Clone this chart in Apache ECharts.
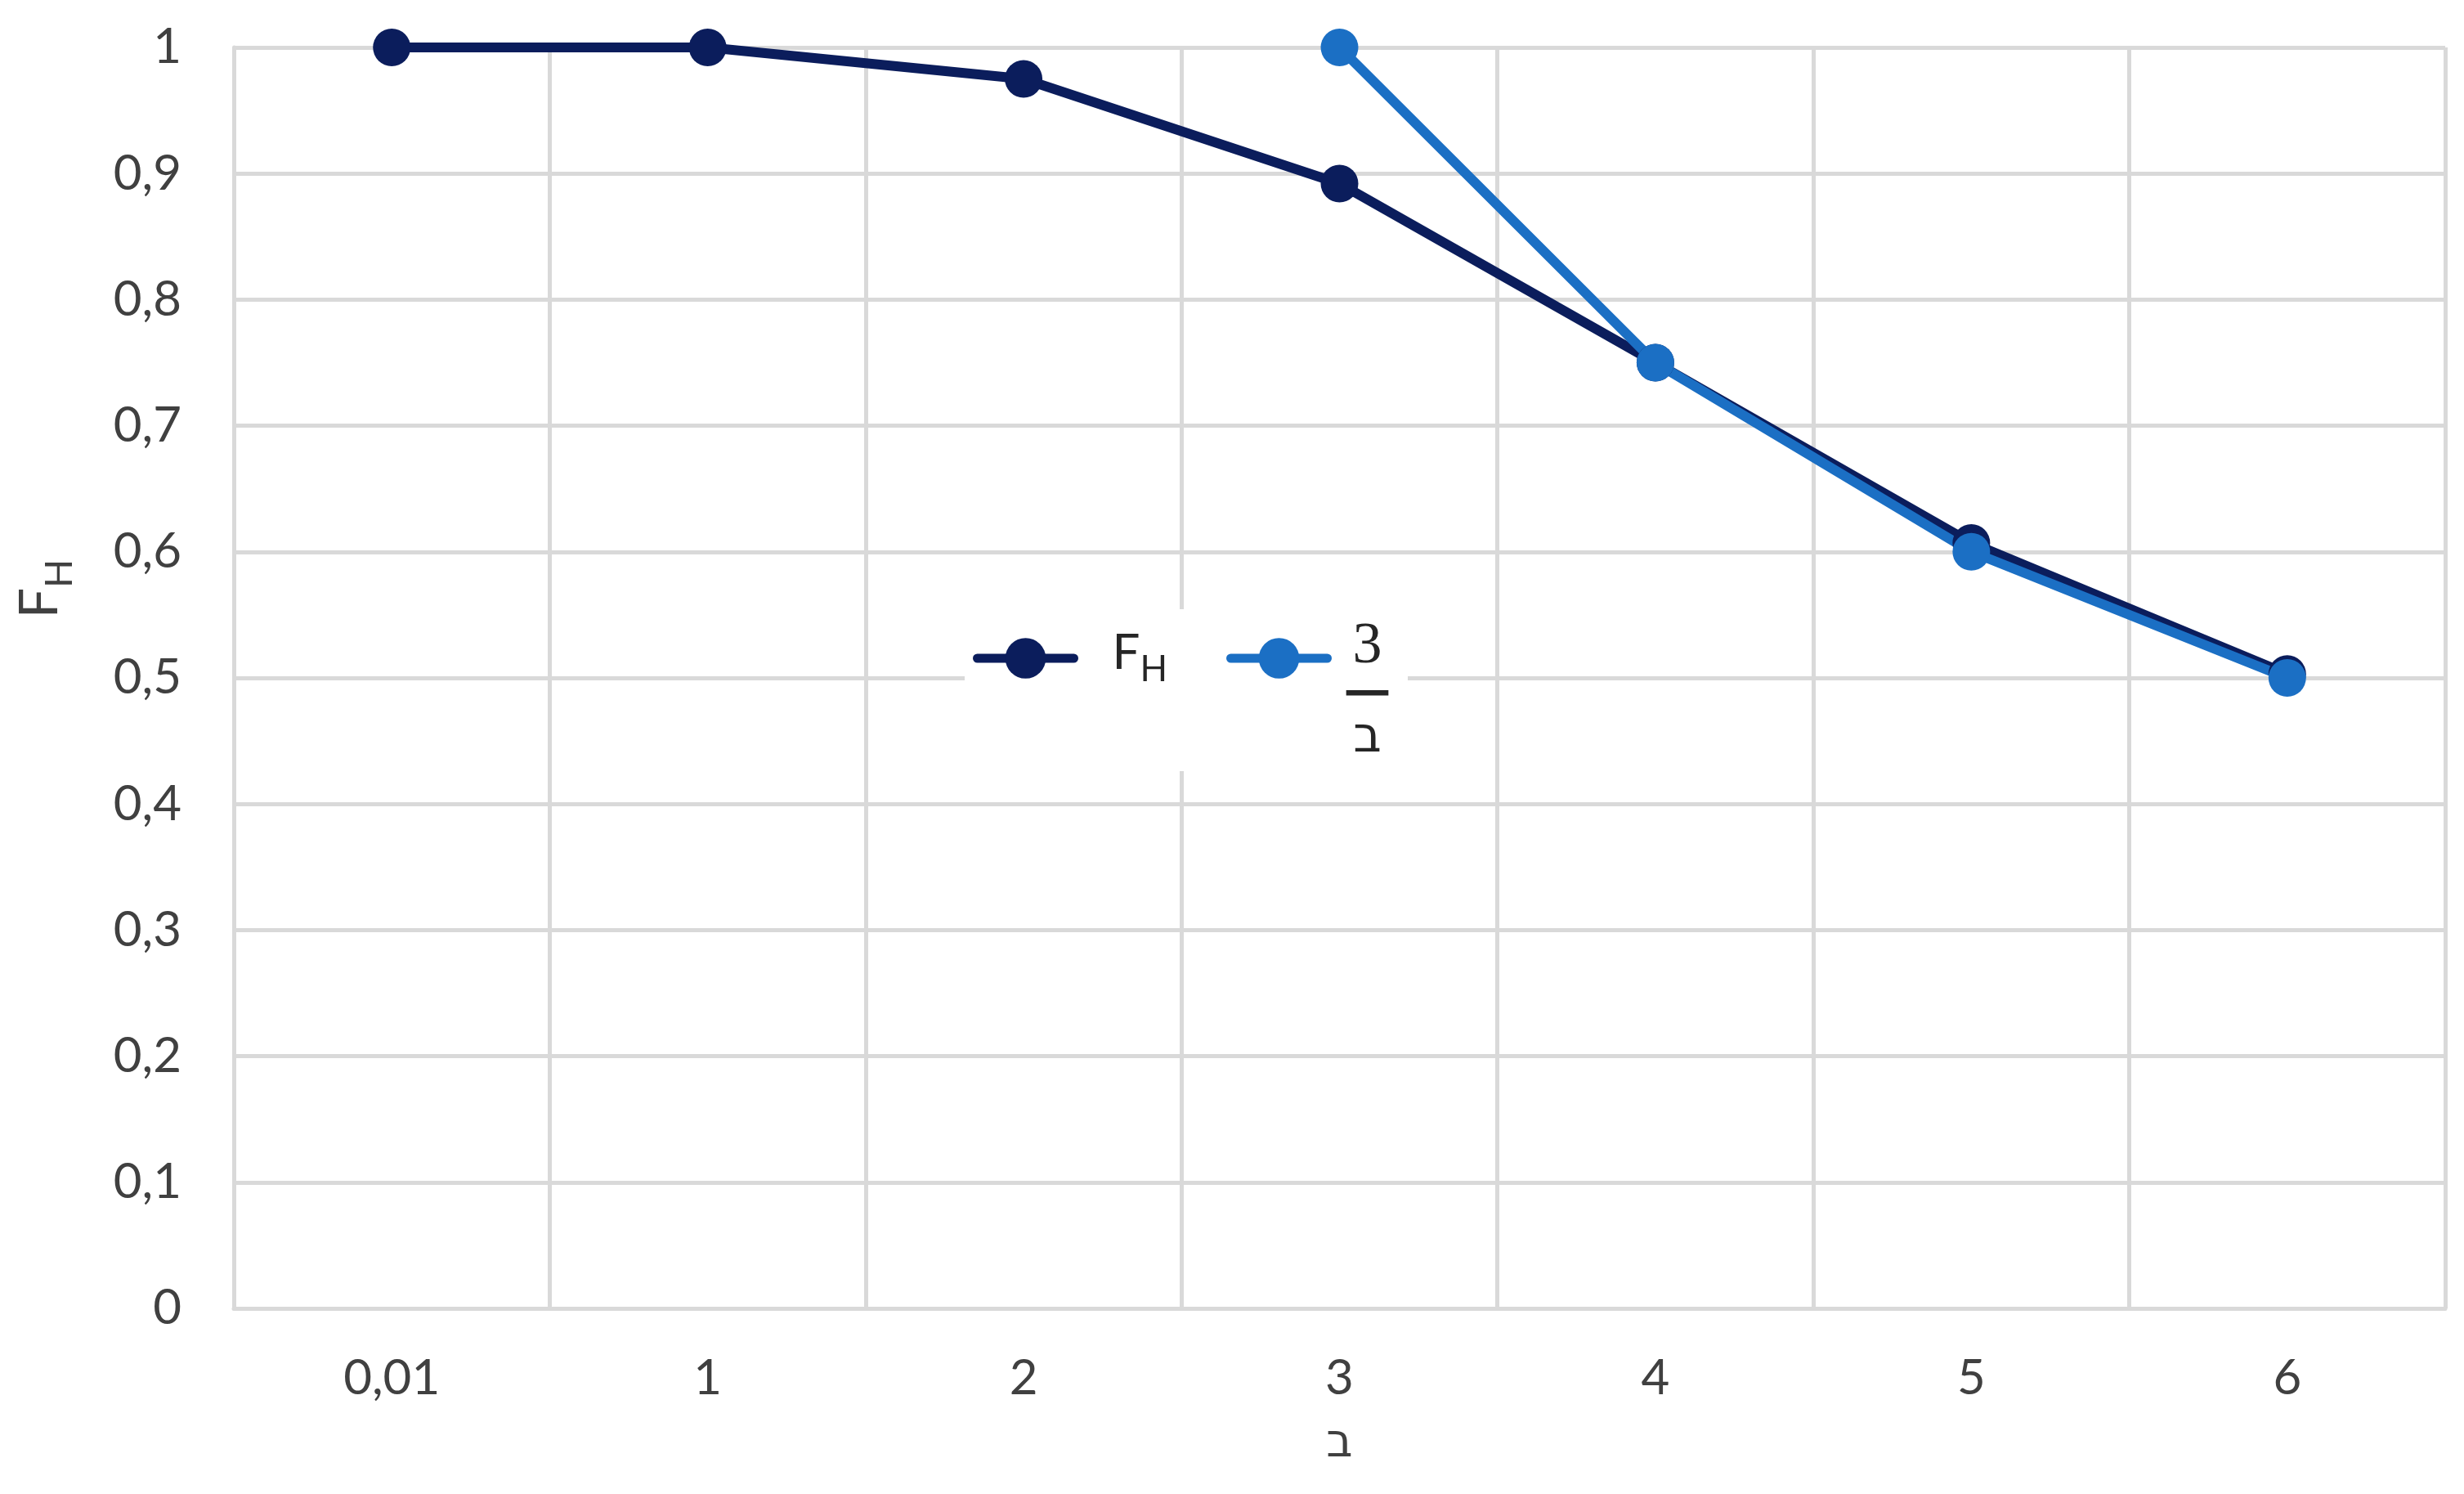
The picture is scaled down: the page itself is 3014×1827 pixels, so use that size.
<!DOCTYPE html>
<html>
<head>
<meta charset="utf-8">
<title>FH</title>
<script src="https://cdn.jsdelivr.net/npm/echarts@6/dist/echarts.min.js"></script>
<style>
  html, body { margin: 0; padding: 0; background: #fff; }
  #main { width: 3014px; height: 1827px; }
</style>
</head>
<body>
<div id="main"></div>
<script>
// x categories (ב)
var categories = ['0,01', '1', '2', '3', '4', '5', '6'];
// F_H curve
var fhValues = [1, 1, 0.975, 0.892, 0.75, 0.607, 0.503];
// 3/ב curve, only defined from ב = 3
var ratioValues = ['-', '-', '-', 1, 0.75, 0.6, 0.5];

var darkBlue = '#0b1d5c';
var midBlue = '#1b6fc4';
var gridGrey = '#d9d9d9';
var labelGrey = '#404040';

var myChart = echarts.init(document.getElementById('main'));

myChart.setOption({
    animation: false,
    backgroundColor: '#fff',
    grid: {
        left: 286,
        right: 23,
        top: 58,
        bottom: 227,
        containLabel: false
    },
    legend: {
        left: 1180,
        top: 745,
        orient: 'horizontal',
        backgroundColor: '#fff',
        padding: [10, 24, 10, 10],
        itemWidth: 118,
        itemHeight: 62,
        itemGap: 72,
        lineStyle: { width: 11 },
        data: [
            {
                name: 'FH',
                textStyle: {
                    padding: [0, 0, 0, 42],
                    rich: {
                        f: { fontFamily: 'Lato', fontSize: 60, color: '#262626', verticalAlign: 'top', lineHeight: 72 },
                        h: { fontFamily: 'Lato', fontSize: 44, color: '#262626', verticalAlign: 'bottom', lineHeight: 72 }
                    }
                }
            },
            {
                name: '3/ב',
                textStyle: {
                    padding: [84, 0, 0, 20],
                    rich: {
                        n: { fontFamily: 'Liberation Serif', fontSize: 72, color: '#262626', lineHeight: 72, align: 'center' },
                        bar: {
                            fontFamily: 'Liberation Serif', fontSize: 48, fontWeight: 'bold', color: '#262626',
                            textBorderColor: '#262626', textBorderWidth: 3, lineHeight: 40, align: 'center'
                        },
                        d: { fontFamily: 'DejaVu Sans', fontSize: 60, color: '#262626', lineHeight: 72, align: 'center' }
                    }
                }
            }
        ],
        formatter: function (name) {
            if (name === 'FH') {
                return '{f|F}{h|H}';
            }
            return '{n|3}\n{bar|—}\n{d|ב}';
        }
    },
    xAxis: {
        type: 'category',
        data: categories,
        boundaryGap: true,
        name: 'ב',
        nameLocation: 'middle',
        nameGap: 138,
        nameTextStyle: {
            fontFamily: 'DejaVu Sans',
            fontSize: 56,
            color: '#404040'
        },
        axisLine: { show: true, lineStyle: { color: gridGrey, width: 5 } },
        axisTick: { show: false },
        axisLabel: {
            fontFamily: 'Lato',
            fontSize: 60,
            color: labelGrey,
            margin: 56
        },
        splitLine: { show: true, lineStyle: { color: gridGrey, width: 5 } }
    },
    yAxis: {
        type: 'value',
        min: 0,
        max: 1,
        interval: 0.1,
        name: '{f|F}{h|H}',
        nameLocation: 'middle',
        nameGap: 190,
        nameRotate: 90,
        nameTextStyle: {
            padding: [0, 0, 0, 218],
            rich: {
                f: { fontFamily: 'Lato', fontSize: 66, color: '#404040', verticalAlign: 'top', lineHeight: 80 },
                h: { fontFamily: 'Lato', fontSize: 46, color: '#404040', verticalAlign: 'bottom', lineHeight: 80 }
            }
        },
        axisLine: { show: true, lineStyle: { color: gridGrey, width: 5 } },
        axisTick: { show: false },
        axisLabel: {
            fontFamily: 'Lato',
            fontSize: 60,
            color: labelGrey,
            margin: 64,
            formatter: function (v) {
                return String(Math.round(v * 10) / 10).replace('.', ',');
            }
        },
        splitLine: { show: true, lineStyle: { color: gridGrey, width: 5 } }
    },
    series: [
        {
            name: 'FH',
            type: 'line',
            data: fhValues,
            symbol: 'circle',
            symbolSize: 46,
            color: darkBlue,
            lineStyle: { color: darkBlue, width: 12, cap: 'round', join: 'round' },
            itemStyle: { color: darkBlue }
        },
        {
            name: '3/ב',
            type: 'line',
            data: ratioValues,
            symbol: 'circle',
            symbolSize: 46,
            color: midBlue,
            lineStyle: { color: midBlue, width: 12, cap: 'round', join: 'round' },
            itemStyle: { color: midBlue }
        }
    ]
});
</script>
</body>
</html>
